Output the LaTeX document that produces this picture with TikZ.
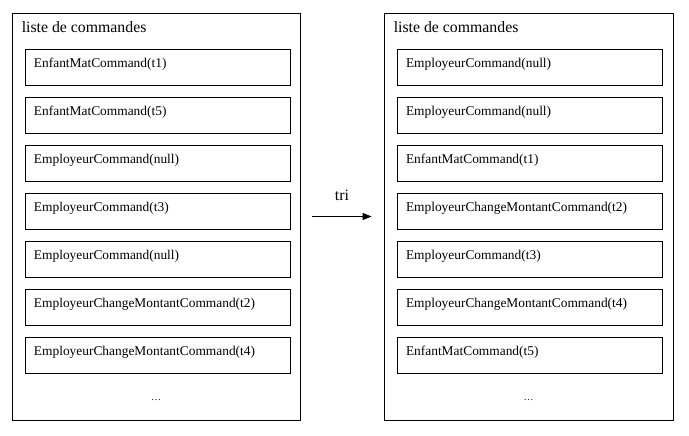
\documentclass[tikz,border=0pt]{standalone}
\usepackage{fontspec}
\setmainfont{Liberation Serif}
\usetikzlibrary{positioning,arrows.meta}

\tikzset{
  liste/.style={draw, line width=0.8pt, minimum width=288pt, minimum height=407pt},
  titre/.style={anchor=north west, inner sep=0pt, font=\fontsize{15.8}{18}\selectfont},
  cmd/.style={draw, line width=0.8pt, text width=247pt, inner xsep=9pt, inner ysep=0pt,
    minimum height=36pt, align=left, text depth=8.5pt, font=\fontsize{13.4}{16}\selectfont},
  fleche/.style={->, line width=0.8pt},
}

\begin{document}
\begin{tikzpicture}[x=1pt, y=1pt, >={Triangle[length=9pt,width=7pt]}]
    \useasboundingbox (0,0) rectangle (689,436);

    % liste avant le tri
    \node[liste] (avant) at (156,219.5) {};
    \node[titre] (avant-titre) at ([xshift=10pt,yshift=-8.7pt]avant.north west) {liste de commandes};
    \node[cmd, anchor=north west] (g1) at ([xshift=13pt,yshift=-36pt]avant.north west) {EnfantMatCommand(t1)};
    \node[cmd, below=11.2pt of g1] (g2) {EnfantMatCommand(t5)};
    \node[cmd, below=11.2pt of g2] (g3) {EmployeurCommand(null)};
    \node[cmd, below=11.2pt of g3] (g4) {EmployeurCommand(t3)};
    \node[cmd, below=11.2pt of g4] (g5) {EmployeurCommand(null)};
    \node[cmd, below=11.2pt of g5] (g6) {EmployeurChangeMontantCommand(t2)};
    \node[cmd, below=11.2pt of g6] (g7) {EmployeurChangeMontantCommand(t4)};
    \node (avant-suite) at ([yshift=20pt]avant.south) {\ldots};

    % liste apres le tri
    \node[liste, minimum width=289pt] (apres) at (528.5,219.5) {};
    \node[titre] (apres-titre) at ([xshift=10pt,yshift=-8.7pt]apres.north west) {liste de commandes};
    \node[cmd, anchor=north west] (d1) at ([xshift=13pt,yshift=-36pt]apres.north west) {EmployeurCommand(null)};
    \node[cmd, below=11.2pt of d1] (d2) {EmployeurCommand(null)};
    \node[cmd, below=11.2pt of d2] (d3) {EnfantMatCommand(t1)};
    \node[cmd, below=11.2pt of d3] (d4) {EmployeurChangeMontantCommand(t2)};
    \node[cmd, below=11.2pt of d4] (d5) {EmployeurCommand(t3)};
    \node[cmd, below=11.2pt of d5] (d6) {EmployeurChangeMontantCommand(t4)};
    \node[cmd, below=11.2pt of d6] (d7) {EnfantMatCommand(t5)};
    \node (apres-suite) at ([yshift=20pt]apres.south) {\ldots};

    % tri
    \draw[fleche] ([xshift=12pt]avant.east) -- node[above=12pt, font=\fontsize{15.8}{18}\selectfont] (tri) {tri} ([xshift=-12pt]apres.west);
\end{tikzpicture}
\end{document}
